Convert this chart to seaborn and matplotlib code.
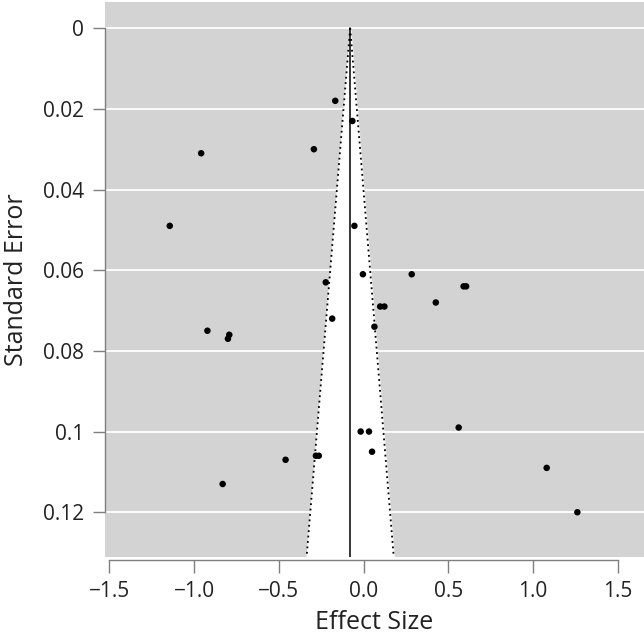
import numpy as np
import pandas as pd
import matplotlib
matplotlib.use("Agg")
import matplotlib.pyplot as plt
import seaborn as sns

# effect sizes and standard errors
effect = [-0.167, -0.066, -0.958, -0.293, -1.143, -0.054, -0.004, 0.284,
          -0.223, 0.590, 0.605, 0.426, 0.098, 0.123, -0.185, 0.064,
          -0.921, -0.792, -0.800, -0.017, 0.032, 0.561, 0.050, -0.281,
          -0.264, -0.460, 1.080, -0.831, 1.261]
std_err = [0.0180, 0.0230, 0.0310, 0.0300, 0.0490, 0.0490, 0.0610, 0.0610,
           0.0630, 0.0640, 0.0640, 0.0680, 0.0690, 0.0690, 0.0720, 0.0740,
           0.0750, 0.0760, 0.0770, 0.1000, 0.1000, 0.0990, 0.1050, 0.1060,
           0.1060, 0.1070, 0.1090, 0.1130, 0.1200]
pooled = -0.079
se_limit = 0.1311

df = pd.DataFrame({"effect": effect, "se": std_err})

sns.set_style("ticks")
plt.rcParams["font.family"] = ["Open Sans", "DejaVu Sans"]

fig = plt.figure(figsize=(6.44, 6.38), dpi=100)
ax = fig.add_axes([105 / 644, 81 / 638, 539 / 644, 555 / 638])
ax.set_facecolor("#d3d3d3")

# white funnel (pseudo 95% region)
se_line = np.array([0, se_limit])
ax.fill_betweenx(se_line, pooled - 1.96 * se_line, pooled + 1.96 * se_line,
                 color="white", zorder=1)
ax.plot(pooled - 1.96 * se_line, se_line, color="black", ls=(0, (1, 2)), lw=1.3, zorder=2)
ax.plot(pooled + 1.96 * se_line, se_line, color="black", ls=(0, (1, 2)), lw=1.3, zorder=2)
ax.plot([pooled, pooled], se_line, color="black", lw=1.1, zorder=2)

yt = [0, 0.02, 0.04, 0.06, 0.08, 0.1, 0.12]
for y in yt:
    ax.axhline(y, color="white", lw=1.3, zorder=0.5)

sns.scatterplot(data=df, x="effect", y="se", ax=ax, color="black", s=22,
                edgecolor="none", zorder=3)

ax.set_xlim(-1.525, 1.654)
ax.set_ylim(se_limit, -0.0065)
ax.set_yticks(yt)
ax.set_yticklabels(["0", "0.02", "0.04", "0.06", "0.08", "0.1", "0.12"])
ax.set_xticks([-1.5, -1.0, -0.5, 0.0, 0.5, 1.0, 1.5])
ax.set_xticklabels(["\u22121.5", "\u22121.0", "\u22120.5", "0.0", "0.5", "1.0", "1.5"])

for side in ["top", "right"]:
    ax.spines[side].set_visible(False)
ax.spines["left"].set_bounds(0, 0.12)
ax.spines["bottom"].set_bounds(-1.5, 1.5)
ax.spines["bottom"].set_position(("outward", 2))
for side in ["left", "bottom"]:
    ax.spines[side].set_color("#7f7f7f")
    ax.spines[side].set_linewidth(1.0)
ax.tick_params(length=9, width=1.0, color="#7f7f7f", labelsize=15, pad=6,
               labelcolor="#222222")

ax.set_xlabel("Effect Size", fontsize=18, labelpad=6, color="#222222")
ax.set_ylabel("Standard Error", fontsize=18, labelpad=10, color="#222222")

fig.savefig("out.png", dpi=100)
